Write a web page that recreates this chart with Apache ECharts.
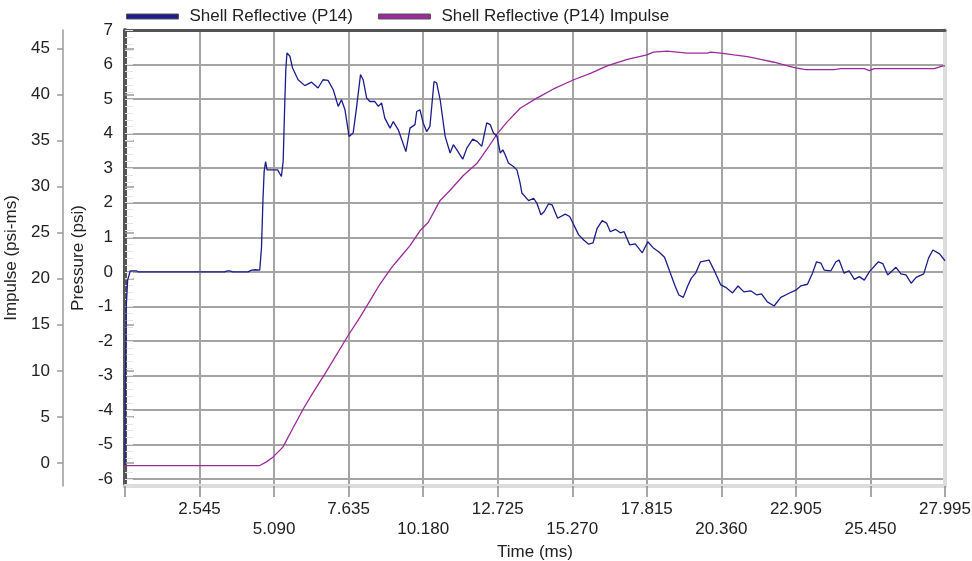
<!DOCTYPE html>
<html><head><meta charset="utf-8">
<script src="https://cdn.jsdelivr.net/npm/echarts@6/dist/echarts.min.js"></script>
<style>html,body{margin:0;padding:0;background:#fff}#c{width:972px;height:561px}</style>
</head><body><div id="c"></div>
<script>
const seriesNames = ['Shell Reflective (P14)', 'Shell Reflective (P14) Impulse'];
const seriesColors = ['#1c1c8c', '#9b2a9b'];

const xMin = 0, xMax = 27.995, xStep = 2.545;
const pressureTicks = [-6,-5,-4,-3,-2,-1,0,1,2,3,4,5,6,7];
const impulseTicks = [0,5,10,15,20,25,30,35,40,45];

const pressureTime = [0,0.01,0.02,0.04,0.09,0.18,0.38,0.45,1.5,2.6,
 3.4,3.5,3.57,3.68,3.8,4.2,4.32,4.45,4.6,4.64,
 4.66,4.71,4.75,4.80,4.85,5.0,5.21,5.34,5.40,5.45,
 5.49,5.53,5.63,5.72,5.91,6.14,6.37,6.59,6.76,6.93,
 7.11,7.28,7.39,7.51,7.65,7.79,7.91,8.04,8.13,8.25,
 8.36,8.53,8.65,8.76,8.87,9.05,9.16,9.33,9.59,9.73,
 9.90,9.96,10.07,10.18,10.30,10.41,10.55,10.64,10.76,10.93,
 11.10,11.21,11.33,11.53,11.67,11.87,12.03,12.18,12.35,12.47,
 12.58,12.70,12.81,12.90,12.98,13.09,13.26,13.38,13.49,13.55,
 13.78,13.95,14.06,14.20,14.31,14.46,14.58,14.77,15.03,15.18,
 15.32,15.49,15.66,15.83,15.98,16.12,16.29,16.44,16.57,16.74,
 16.91,17.04,17.23,17.42,17.66,17.85,18.05,18.22,18.42,18.62,
 18.79,18.91,19.06,19.20,19.33,19.48,19.65,19.94,20.11,20.34,
 20.51,20.74,20.93,21.13,21.36,21.57,21.73,21.93,22.16,22.39,
 22.67,22.90,23.07,23.30,23.47,23.61,23.76,23.87,24.10,24.27,
 24.38,24.55,24.72,24.90,25.07,25.24,25.41,25.72,25.87,26.04,
 26.32,26.49,26.66,26.84,27.01,27.27,27.43,27.58,27.81,27.995];
const pressure = [-5.6,-3.0,-2.9,-1.05,-0.24,0.03,0.03,0.0,0.0,0.0,
 0.0,0.03,0.03,0.0,0.0,0.0,0.05,0.06,0.05,0.03,
 0.7,2.08,2.9,3.19,2.95,2.95,2.95,2.76,3.2,4.75,
 5.85,6.34,6.24,5.9,5.56,5.39,5.49,5.32,5.56,5.54,
 5.27,4.79,4.98,4.69,3.92,4.02,4.79,5.71,5.56,5.03,
 4.93,4.93,4.79,4.89,4.45,4.16,4.35,4.11,3.48,4.16,
 4.26,4.64,4.69,4.31,4.06,4.21,5.51,5.47,4.98,3.92,
 3.44,3.68,3.53,3.26,3.58,3.84,3.77,3.63,4.31,4.26,
 4.02,3.92,3.44,3.53,3.39,3.15,3.05,2.95,2.57,2.28,
 2.06,2.13,1.99,1.65,1.74,1.97,1.94,1.55,1.67,1.60,
 1.36,1.07,0.92,0.80,0.84,1.26,1.48,1.41,1.16,1.23,
 1.13,1.16,0.78,0.81,0.55,0.87,0.68,0.58,0.42,-0.04,
 -0.43,-0.67,-0.74,-0.43,-0.19,-0.04,0.29,0.34,0.05,-0.38,
 -0.45,-0.61,-0.41,-0.58,-0.55,-0.67,-0.64,-0.87,-0.99,-0.74,
 -0.62,-0.53,-0.41,-0.36,-0.04,0.29,0.25,0.05,0.03,0.29,
 0.34,-0.04,0.03,-0.22,-0.14,-0.24,0.00,0.29,0.24,-0.09,
 0.13,-0.06,-0.09,-0.33,-0.16,-0.06,0.39,0.63,0.52,0.32];

const impulseTime = [0,4.60,4.83,5.05,5.39,5.74,6.08,6.42,6.82,7.65,
 8.02,8.36,8.70,9.10,9.39,9.73,10.07,10.35,10.76,11.10,
 11.55,12.01,12.41,12.70,13.04,13.49,14.06,14.63,15.32,15.89,
 16.46,17.15,17.82,18.04,18.50,18.85,19.20,19.88,19.99,20.34,
 20.79,21.25,21.70,22.16,22.62,22.90,23.24,24.21,24.44,25.24,
 25.41,25.58,27.63,27.92,27.995];
const impulse = [-0.28,-0.28,0.12,0.63,1.72,3.83,5.83,7.64,9.64,14.0,
 15.8,17.6,19.4,21.2,22.3,23.6,25.2,26.1,28.5,29.6,
 31.2,32.5,34.3,35.7,37.0,38.5,39.6,40.6,41.6,42.3,
 43.1,43.8,44.3,44.6,44.7,44.6,44.5,44.5,44.6,44.5,
 44.3,44.1,43.8,43.5,43.1,42.9,42.7,42.7,42.8,42.8,
 42.6,42.8,42.8,43.1,43.1];

const FONT = '"Liberation Sans", Arial, sans-serif';
const TXT = '#222';
const FS = 17;
const pMin = -6.2, pMax = 7;
const iMin = -2.5, iMax = 47;

const chart = echarts.init(document.getElementById('c'));
const gridLine = {show: true, lineStyle: {color: '#a4a4a4', width: 2}};

const option = {
  animation: false,
  textStyle: {fontFamily: FONT},
  legend: {
    top: 3, left: 121, itemWidth: 52, itemHeight: 5, itemGap: 25, icon: 'rect',
    textStyle: {fontSize: FS, color: TXT, fontFamily: FONT, padding: [0, 0, 0, 6]},
    data: seriesNames.map((n, i) => ({name: n, itemStyle: {color: seriesColors[i], borderColor: '#555', borderWidth: 1}}))
  },
  grid: {left: 125, right: 27, top: 30, bottom: 75, containLabel: false, outerBoundsMode: 'none'},
  xAxis: [{
    type: 'value', min: xMin, max: xMax, interval: xStep, position: 'bottom',
    name: 'Time (ms)', nameLocation: 'middle', nameGap: 55,
    nameTextStyle: {fontSize: FS, color: TXT, fontFamily: FONT},
    axisLine: {show: true, onZero: false, lineStyle: {color: '#dcdcdc', width: 4}},
    axisTick: {show: true, length: 11, lineStyle: {color: '#8a8a8a', width: 1.5}},
    splitLine: gridLine,
    axisLabel: {
      interval: 0, showMinLabel: true, showMaxLabel: true, margin: 13, fontSize: FS, lineHeight: 20, color: TXT, fontFamily: FONT,
      formatter: v => {
        const k = Math.round(v / xStep);
        if (k === 0) return '';
        const s = (k * xStep).toFixed(3);
        return k % 2 === 1 ? s : '\n' + s;
      }
    }
  }, {
    type: 'value', min: xMin, max: xMax, position: 'top',
    axisLine: {show: true, onZero: false, lineStyle: {color: '#555', width: 3}},
    axisTick: {show: false}, axisLabel: {show: false}, splitLine: {show: false}
  }],
  yAxis: [{
    type: 'value', min: pMin, max: pMax, position: 'left',
    name: 'Pressure (psi)', nameLocation: 'middle', nameGap: 35,
    nameTextStyle: {fontSize: FS, color: TXT, fontFamily: FONT},
    axisLine: {show: true, onZero: false, lineStyle: {color: '#555', width: 4}},
    axisTick: {show: false, customValues: pressureTicks},
    axisLabel: {customValues: pressureTicks, margin: 12, fontSize: FS, color: TXT, fontFamily: FONT},
    splitLine: gridLine
  }, {
    type: 'value', min: iMin, max: iMax, position: 'left', offset: 62,
    name: 'Impulse (psi-ms)', nameLocation: 'middle', nameGap: 39,
    nameTextStyle: {fontSize: FS, color: TXT, fontFamily: FONT},
    axisLine: {show: true, onZero: false, lineStyle: {color: '#9a9a9a', width: 1.5}},
    axisTick: {show: true, length: 6, customValues: impulseTicks, lineStyle: {color: '#9a9a9a', width: 1.5}},
    axisLabel: {customValues: impulseTicks, margin: 13, fontSize: FS, color: TXT, fontFamily: FONT},
    splitLine: {show: false}
  }, {
    type: 'value', min: iMin, max: iMax, position: 'left', offset: 62,
    axisLine: {show: false},
    axisTick: {show: true, inside: true, length: 9, customValues: impulseTicks, lineStyle: {color: '#9a9a9a', width: 1.5}},
    axisLabel: {show: false}, splitLine: {show: false}
  }, {
    type: 'value', min: pMin, max: pMax, interval: 0.2, position: 'left',
    axisLine: {show: false},
    axisTick: {show: true, inside: true, length: 8, lineStyle: {color: '#e4e4e4', width: 1}},
    axisLabel: {show: false}, splitLine: {show: false}
  }, {
    type: 'value', min: pMin, max: pMax, position: 'right',
    axisLine: {show: true, onZero: false, lineStyle: {color: '#dcdcdc', width: 4}},
    axisTick: {show: false}, axisLabel: {show: false}, splitLine: {show: false}
  }],
  series: [{
    name: seriesNames[0], type: 'line', xAxisIndex: 0, yAxisIndex: 0, showSymbol: false, symbol: 'none',
    color: seriesColors[0], lineStyle: {width: 1.3, color: seriesColors[0]},
    data: pressureTime.map((t, i) => [t, pressure[i]]), z: 5
  }, {
    name: seriesNames[1], type: 'line', xAxisIndex: 0, yAxisIndex: 1, showSymbol: false, symbol: 'none',
    color: seriesColors[1], lineStyle: {width: 1.3, color: seriesColors[1]},
    data: impulseTime.map((t, i) => [t, impulse[i]]), z: 4
  }]
};
chart.setOption(option);
</script>
</body></html>
